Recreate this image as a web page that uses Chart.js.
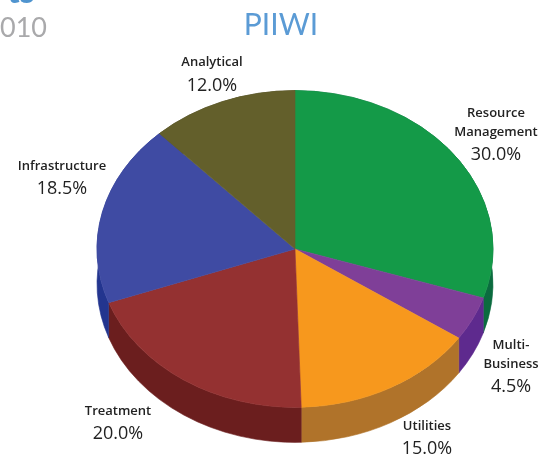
<!DOCTYPE html>
<html><head><meta charset="utf-8">
<script src="https://cdn.jsdelivr.net/npm/chart.js@4"></script>
<style>html,body{margin:0;padding:0;background:#fff}#w{width:546px;height:459px;position:relative}</style>
</head><body><div id="w"><canvas id="c" width="546" height="459"></canvas></div>
<script>
const categories = ["Resource Management","Multi-Business","Utilities","Treatment","Infrastructure","Analytical"];
const shares = [30.0,4.5,15.0,20.0,18.5,12.0];
const topColours = ["#149a48","#7f3f98","#f7981d","#943131","#3f4ba3","#635f2b"];
const sideColours = ["#0b6b3f","#5e2a8e","#b0732a","#6b1e1e","#23358f","#45421e"];

const TILT = 0.8, DEPTH = 35;
const labelLayout = [
  {lines:["Resource","Management"],x:496,y:[113,132],py:155},
  {lines:["Multi-","Business"],x:511,y:[345,364],py:387},
  {lines:["Utilities"],x:427,y:[426],py:449},
  {lines:["Treatment"],x:118,y:[411],py:434},
  {lines:["Infrastructure"],x:62,y:[166],py:189},
  {lines:["Analytical"],x:212,y:[62],py:86}
];
const FONT = '"Open Sans", sans-serif';

const pie3d = {
  id:'pie3d',
  beforeDatasetsDraw(chart){
    const ctx = chart.ctx, arcs = chart.getDatasetMeta(0).data;
    const geo = a => a.getProps(['x','y','startAngle','endAngle','outerRadius'],true);
    const band = (a,col)=>{
      const p = geo(a), r = p.outerRadius;
      ctx.beginPath();
      ctx.ellipse(p.x,p.y,r,r*TILT,0,p.startAngle,p.endAngle);
      ctx.ellipse(p.x,p.y+DEPTH,r,r*TILT,0,p.endAngle,p.startAngle,true);
      ctx.closePath();
      ctx.fillStyle = col;
      ctx.strokeStyle = col;
      ctx.lineWidth = 0.6;
      ctx.fill();
      ctx.stroke();
    };
    const wedge = (a,col)=>{
      const p = geo(a), r = p.outerRadius;
      ctx.beginPath();
      ctx.moveTo(p.x,p.y);
      ctx.ellipse(p.x,p.y,r,r*TILT,0,p.startAngle,p.endAngle);
      ctx.closePath();
      ctx.fillStyle = col;
      ctx.strokeStyle = col;
      ctx.lineWidth = 0.6;
      ctx.fill();
      ctx.stroke();
    };
    ctx.save();
    arcs.forEach((a,i)=>band(a,sideColours[i]));
    arcs.forEach((a,i)=>wedge(a,topColours[i]));
    ctx.restore();
    return false;
  },
  afterDraw(chart){
    const ctx = chart.ctx;
    ctx.save();
    ctx.textAlign='center'; ctx.textBaseline='middle';
    ctx.fillStyle='#222222';
    labelLayout.forEach((l,i)=>{
      ctx.font='600 13px '+FONT;
      l.lines.forEach((t,j)=>ctx.fillText(t,l.x,l.y[j]));
      ctx.font='18px '+FONT;
      ctx.fillText(shares[i].toFixed(1)+'%',l.x,l.py);
    });
    ctx.fillStyle='#5b9bd5';
    ctx.font='30px Lato, sans-serif';
    ctx.fillText('PIIWI',281,25);
    ctx.textAlign='left';
    ctx.fillStyle='#a9a9ab';
    ctx.font='27px Lato, sans-serif';
    ctx.fillText('010',0,28);
    ctx.fillStyle='#4f94cf';
    ctx.font='bold 34px Lato, sans-serif';
    ctx.textBaseline='alphabetic';
    ctx.fillText('ts',7,3);
    ctx.restore();
  }
};

new Chart(document.getElementById('c'),{
  type:'pie',
  data:{labels:categories,datasets:[{data:shares,backgroundColor:topColours,borderWidth:0}]},
  options:{
    responsive:false,animation:false,
    layout:{padding:{left:97,right:53,top:51,bottom:12}},
    plugins:{legend:{display:false},tooltip:{enabled:false}}
  },
  plugins:[pie3d]
});
</script></body></html>
